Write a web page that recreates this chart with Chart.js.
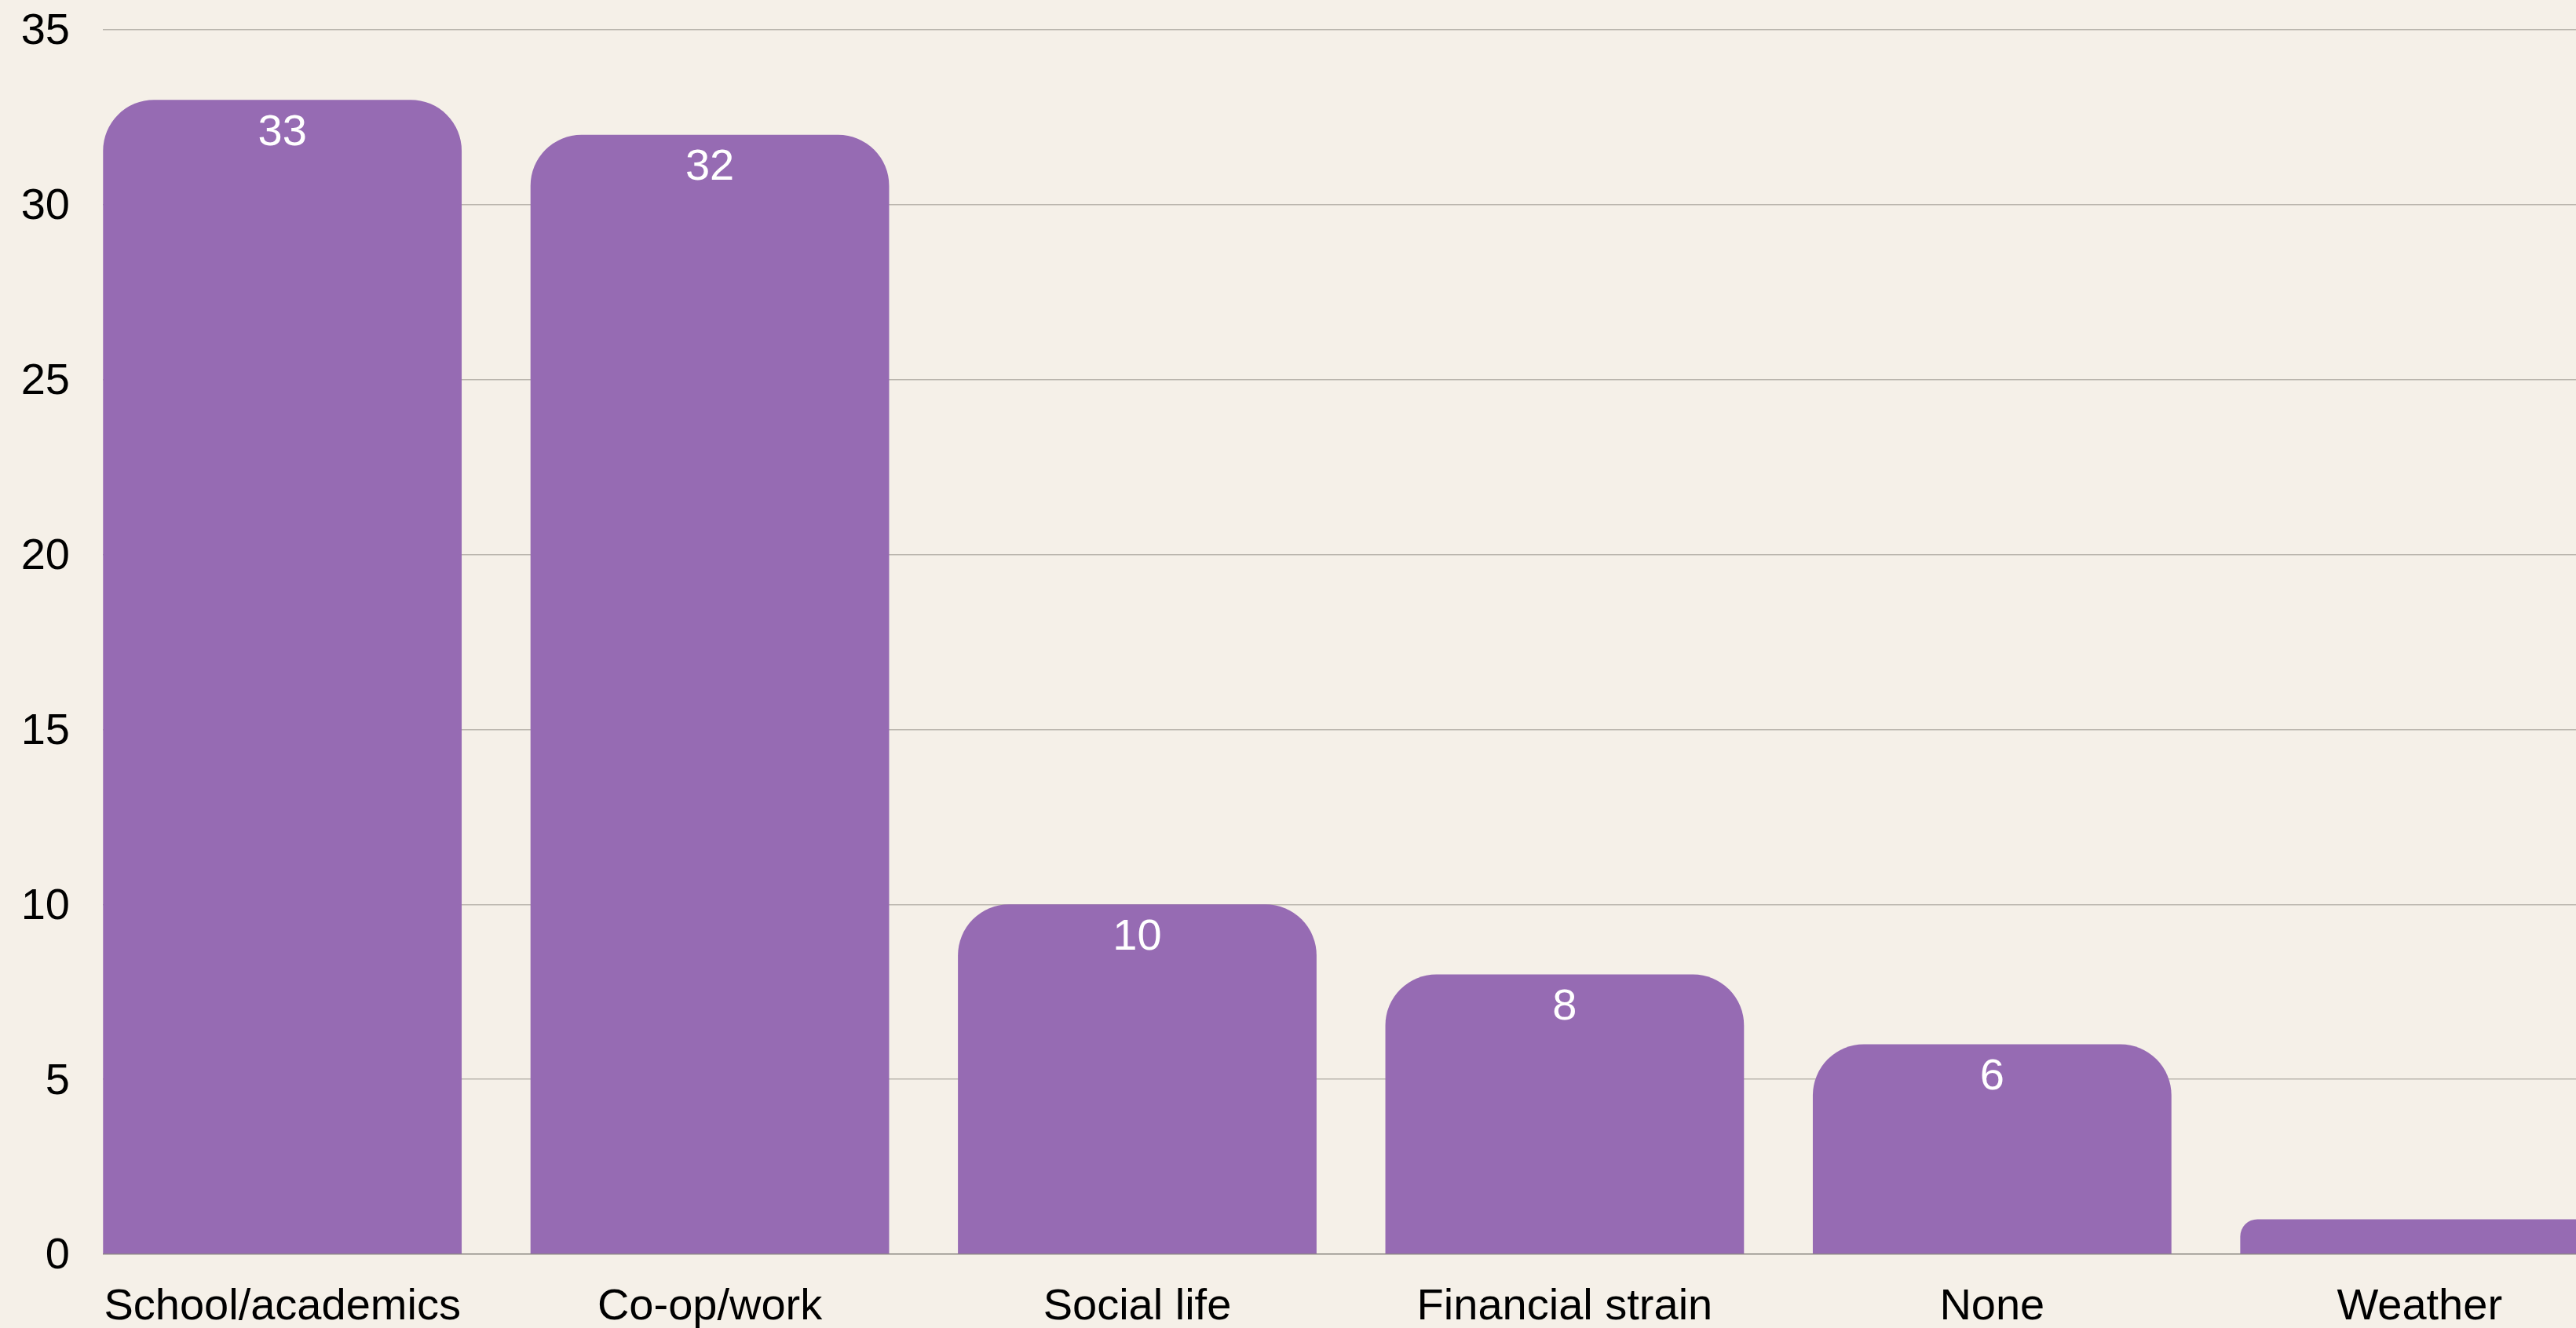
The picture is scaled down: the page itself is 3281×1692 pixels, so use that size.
<!DOCTYPE html>
<html>
<head>
<meta charset="utf-8">
<script src="https://cdn.jsdelivr.net/npm/chart.js@4/dist/chart.umd.min.js"></script>
<style>
  html, body { margin: 0; padding: 0; background: #f5f0e8; overflow: hidden; }
  #wrap { width: 3281px; height: 1692px; }
</style>
</head>
<body>
<div id="wrap"><canvas id="c" width="3281" height="1692"></canvas></div>
<script>
const categories = ['School/academics', 'Co-op/work', 'Social life', 'Financial strain', 'None', 'Weather'];
const counts = [33, 32, 10, 8, 6, 1];
const yMin = 0;
const yMax = 35;
const yStep = 5;

const FONT = '"Liberation Sans", Arial, sans-serif';
const FONT_SIZE = 56;

const valueLabels = {
  id: 'valueLabels',
  afterDatasetsDraw(chart) {
    const ctx = chart.ctx;
    const meta = chart.getDatasetMeta(0);
    ctx.save();
    ctx.font = FONT_SIZE + 'px ' + FONT;
    ctx.fillStyle = '#ffffff';
    ctx.textAlign = 'center';
    ctx.textBaseline = 'top';
    meta.data.forEach((el, i) => {
      const h = el.base - el.y;
      if (h < 80) return;
      ctx.fillText(String(counts[i]), el.x, el.y + 14);
    });
    ctx.restore();
  }
};

new Chart(document.getElementById('c'), {
  type: 'bar',
  data: {
    datasets: [{
      data: counts.map((v, i) => ({ x: i, y: v })),
      backgroundColor: '#966bb3',
      borderWidth: 0,
      borderRadius: { topLeft: 65, topRight: 65 },
      borderSkipped: 'start',
      barPercentage: 0.839,
      categoryPercentage: 1
    }]
  },
  options: {
    responsive: false,
    devicePixelRatio: 1,
    animation: false,
    layout: { padding: { top: 38, right: 0, bottom: 0, left: 0 } },
    plugins: { legend: { display: false }, tooltip: { enabled: false } },
    scales: {
      x: {
        type: 'linear',
        min: -0.42,
        max: 5.366,
        offset: false,
        grid: { display: false, drawTicks: false },
        border: { display: false },
        afterBuildTicks: (s) => { s.ticks = categories.map((_, i) => ({ value: i })); },
        afterFit: (s) => { s.height = 94; s.paddingLeft = 0; s.paddingRight = 0; },
        ticks: {
          autoSkip: false,
          maxRotation: 0,
          minRotation: 0,
          padding: 34,
          color: '#000000',
          font: { family: FONT, size: FONT_SIZE },
          callback: (v) => categories[v] !== undefined ? categories[v] : ''
        }
      },
      y: {
        min: yMin,
        max: yMax,
        grid: {
          drawTicks: false,
          lineWidth: 1.5,
          color: (ctx) => ctx.tick && ctx.tick.value === 0 ? '#8a8680' : '#bab5ad'
        },
        border: { display: false },
        afterFit: (s) => { s.width = 131; s.paddingTop = 0; s.paddingBottom = 0; },
        ticks: {
          stepSize: yStep,
          padding: 42,
          labelOffset: 3,
          color: '#000000',
          font: { family: FONT, size: FONT_SIZE }
        }
      }
    }
  },
  plugins: [valueLabels]
});
</script>
</body>
</html>
